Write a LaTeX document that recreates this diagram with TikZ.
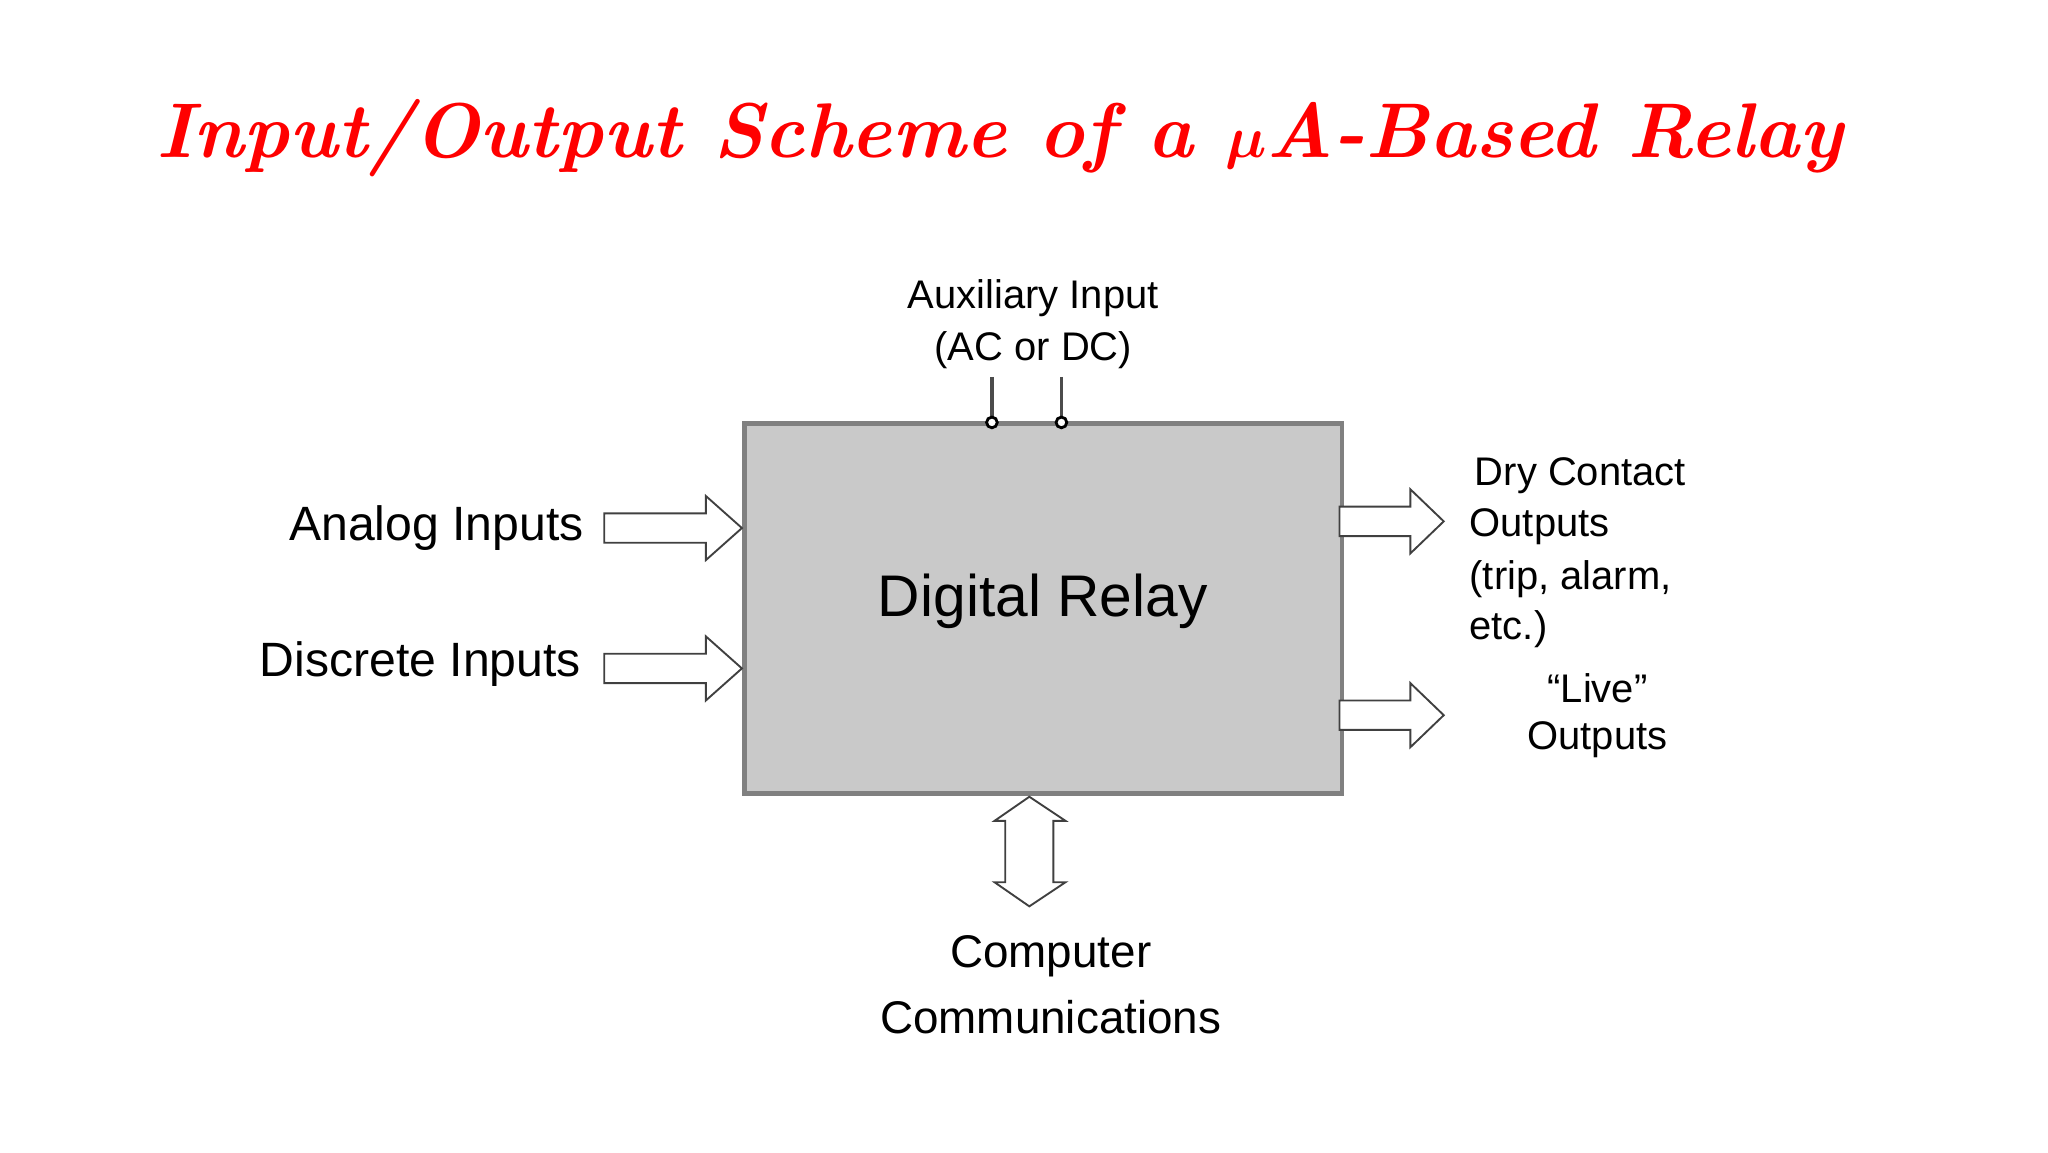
\documentclass[tikz,border=0pt]{standalone}
\usepackage{amsmath,bm}
\usepackage{fontspec}
\newfontfamily\sansf{Liberation Sans}
\begin{document}
\begin{tikzpicture}[x=0.02cm,y=-0.02cm,
  lbl/.style={font=\sansf\fontsize{17}{21}\selectfont, inner sep=0pt},
  big/.style={font=\sansf\fontsize{20.5}{24}\selectfont, inner sep=0pt},
  harrow/.style={draw=black!75, line width=0.8pt, fill=white}]
\useasboundingbox (0,0) rectangle (1532,862);
\node[text=red, font=\fontsize{33}{40}\selectfont\bfseries\itshape] (title) at (748,103) {Input/Output Scheme of a $\bm{\mu}$A-Based Relay};
\node[draw=black!50, line width=2pt, fill=black!21, minimum width=447*0.02cm, minimum height=277*0.02cm, anchor=north west] (relay) at (555,315) {};
\node[font=\sansf\fontsize{25}{30}\selectfont] (rl) at (780,450) {Digital Relay};
% auxiliary
\coordinate (t1) at (742,316); \coordinate (t2) at (794,316);
\coordinate (t1u) at (742,282); \coordinate (t2u) at (794,282);
\draw[black!70, line width=1.6pt] (t1u) -- (t1) (t2u) -- (t2);
\draw[black, line width=1.2pt, fill=white] (t1) circle (4) (t2) circle (4);
\node[lbl] (aux1) at (773,223) {Auxiliary Input};
\node[lbl] (aux2) at (773,262) {(AC or DC)};
% inputs
\node[big, anchor=east] (ai) at (437,395) {Analog Inputs};
\node[big, anchor=east] (di) at (435,497) {Discrete Inputs};
\draw[harrow] (452,384) -- (528,384) -- (528,371) -- (555,395) -- (528,419) -- (528,406) -- (452,406) -- cycle;
\draw[harrow] (452,489) -- (528,489) -- (528,476) -- (555,500) -- (528,524) -- (528,511) -- (452,511) -- cycle;
% outputs
\draw[harrow] (1002,379) -- (1055,379) -- (1055,366) -- (1080,390) -- (1055,414) -- (1055,401) -- (1002,401) -- cycle;
\draw[harrow] (1002,524) -- (1055,524) -- (1055,511) -- (1080,535) -- (1055,559) -- (1055,546) -- (1002,546) -- cycle;
\node[lbl, anchor=west] (d1) at (1103,356) {Dry Contact};
\node[lbl, anchor=west] (d2) at (1099,394) {Outputs};
\node[lbl, anchor=west] (d3) at (1099,433) {(trip, alarm,};
\node[lbl, anchor=west] (d4) at (1099,471) {etc.)};
\node[lbl] (l1) at (1195,515) {“Live”};
\node[lbl] (l2) at (1195,553) {Outputs};
% bottom double arrow
\draw[harrow] (770,596) -- (797,614) -- (788,614) -- (788,660) -- (797,660) -- (770,678) -- (744,660) -- (752,660) -- (752,614) -- (744,614) -- cycle;
\node[big, font=\sansf\fontsize{19.5}{23}\selectfont] (c1) at (786,715) {Computer};
\node[big, font=\sansf\fontsize{19.5}{23}\selectfont] (c2) at (786,761) {Communications};
\end{tikzpicture}
\end{document}
